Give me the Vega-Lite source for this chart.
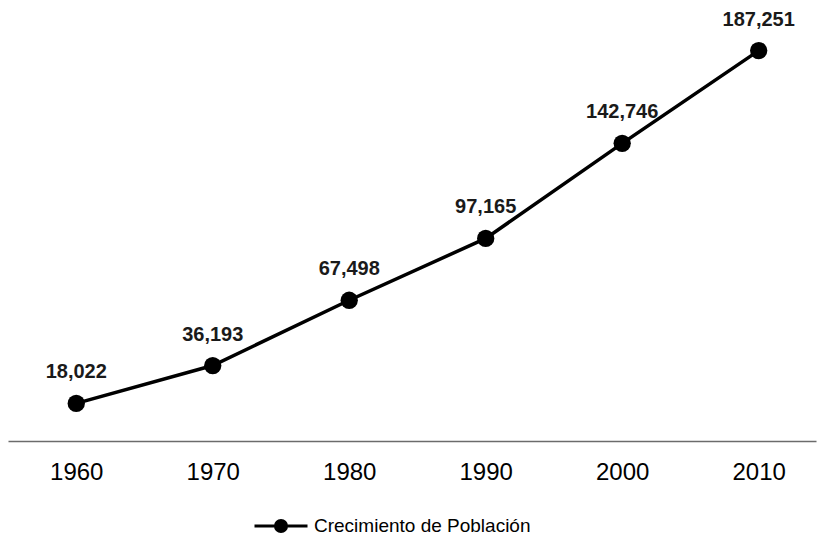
{
  "$schema": "https://vega.github.io/schema/vega-lite/v6.json",
  "width": 808,
  "height": 417,
  "autosize": {"type": "none"},
  "padding": {"left": 8, "top": 24, "right": 1, "bottom": 97},
  "background": "white",
  "config": {"view": {"stroke": null}, "font": "Liberation Sans"},
  "data": {"values": [
    {"year": 1960, "pop": 18022},
    {"year": 1970, "pop": 36193},
    {"year": 1980, "pop": 67498},
    {"year": 1990, "pop": 97165},
    {"year": 2000, "pop": 142746},
    {"year": 2010, "pop": 187251}
  ]},
  "encoding": {
    "x": {"field": "year", "type": "quantitative",
      "scale": {"domain": [1955, 2014.2], "nice": false, "zero": false},
      "axis": {"values": [1960, 1970, 1980, 1990, 2000, 2010], "format": "d", "title": null,
        "grid": false, "ticks": false, "labelFontSize": 24, "labelColor": "#000000",
        "labelPadding": 19, "domainColor": "#6b6b6b", "domainWidth": 1.5, "labelFont": "Liberation Sans"}},
    "y": {"field": "pop", "type": "quantitative",
      "scale": {"domain": [0, 200000], "nice": false},
      "axis": null}
  },
  "layer": [
    {"mark": {"type": "line", "strokeWidth": 3.5},
     "encoding": {"color": {"datum": "Crecimiento de Población", "type": "nominal",
       "scale": {"range": ["#000000"]},
       "legend": {"orient": "none", "legendX": 245, "legendY": 474, "title": null, "padding": 0,
         "symbolType": "M-1,0L1,0M-0.21,0A0.21,0.21 0 1,1 0.21,0A0.21,0.21 0 1,1 -0.21,0Z",
         "symbolSize": 2809, "symbolStrokeWidth": 3, "symbolFillColor": "#000000", "symbolStrokeColor": "#000000",
         "labelFontSize": 19, "labelColor": "#000000", "labelOffset": 5, "labelLimit": 0, "labelFont": "Liberation Sans"}}}},
    {"mark": {"type": "point", "filled": true, "opacity": 1, "size": 300, "color": "#000000", "shape": "circle"}},
    {"mark": {"type": "text", "dy": -31, "fontSize": 20, "fontWeight": "bold", "color": "#1a1a1a", "font": "Liberation Sans"},
     "encoding": {"text": {"field": "pop", "type": "quantitative", "format": ","}}}
  ]
}
